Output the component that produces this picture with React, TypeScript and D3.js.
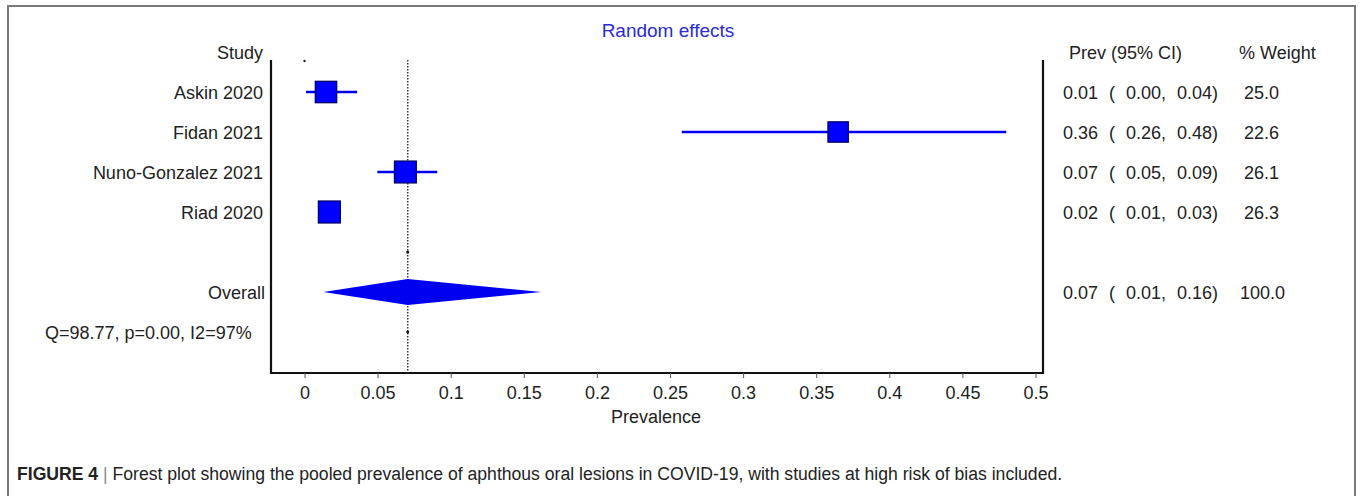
import React, { useEffect, useRef } from 'react';
import * as d3 from 'd3';

// study rows of the forest plot
const studies = ['Askin 2020', 'Fidan 2021', 'Nuno-Gonzalez 2021', 'Riad 2020'];
const estimates = [0.0147, 0.365, 0.069, 0.017];
const lowers = [0.001, 0.258, 0.0498, 0.011];
const uppers = [0.036, 0.48, 0.0908, 0.025];
const weights = [25.0, 22.6, 26.1, 26.3];
const prevLabels = ['0.01', '0.36', '0.07', '0.02'];
const lowLabels = ['0.00', '0.26', '0.05', '0.01'];
const highLabels = ['0.04', '0.48', '0.09', '0.03'];

// pooled estimate
const pooled = { est: 0.0706, lo: 0.0129, hi: 0.162 };
const pooledLabels = ['0.07', '0.01', '0.16', '100.0'];
const heterogeneity = 'Q=98.77, p=0.00, I2=97%';

const xTicks = [0, 0.05, 0.1, 0.15, 0.2, 0.25, 0.3, 0.35, 0.4, 0.45, 0.5];

const FONT = 'Arial, "Liberation Sans", sans-serif';

const App = () => {
  const ref = useRef<SVGSVGElement>(null);

  useEffect(() => {
    const svg = d3.select(ref.current);
    svg.selectAll('*').remove();

    const x = d3.scaleLinear().domain([0, 0.5]).range([304.5, 1035.5]);
    // row index -> y (0 = header, 5 = blank, 6 = overall, 7 = heterogeneity)
    const y = d3.scaleLinear().domain([0, 1]).range([52, 92]);
    const boxSize = d3.scaleSqrt().domain([0, 26.3]).range([0, 22]);

    const plotLeft = 271, plotRight = 1043, plotTop = 60, plotBottom = 373;

    // outer frame
    svg.append('rect')
      .attr('x', 8).attr('y', 6).attr('width', 1347).attr('height', 500)
      .attr('fill', 'none').attr('stroke', '#7a7a7a').attr('stroke-width', 2);

    svg.append('text')
      .attr('x', 668).attr('y', 37)
      .attr('text-anchor', 'middle')
      .attr('font-family', FONT).attr('font-size', 19)
      .attr('fill', '#2b2bd6')
      .text('Random effects');

    // frame lines of plot
    const g = svg.append('g').attr('stroke', '#111').attr('stroke-width', 2.2);
    g.append('line').attr('x1', plotLeft).attr('x2', plotLeft).attr('y1', plotTop).attr('y2', plotBottom + 1);
    g.append('line').attr('x1', plotRight).attr('x2', plotRight).attr('y1', plotTop).attr('y2', plotBottom + 1);
    g.append('line').attr('x1', plotLeft).attr('x2', plotRight).attr('y1', plotBottom).attr('y2', plotBottom);

    // x axis
    const axis = svg.append('g')
      .attr('transform', `translate(0,${plotBottom})`)
      .call(d3.axisBottom(x).tickValues(xTicks).tickSize(5).tickPadding(8)
        .tickFormat(d => String(+(+d).toFixed(2))));
    axis.select('.domain').remove();
    axis.selectAll('line').attr('stroke', '#555');
    axis.selectAll('text')
      .attr('font-family', FONT).attr('font-size', 18).attr('fill', '#222');

    svg.append('text')
      .attr('x', 656).attr('y', 423)
      .attr('text-anchor', 'middle')
      .attr('font-family', FONT).attr('font-size', 18).attr('fill', '#222')
      .text('Prevalence');

    // pooled reference line
    svg.append('line')
      .attr('x1', x(pooled.est)).attr('x2', x(pooled.est))
      .attr('y1', plotTop).attr('y2', plotBottom)
      .attr('stroke', '#333').attr('stroke-width', 1.5)
      .attr('stroke-dasharray', '1.5,1.5');
    [y(5), y(7)].forEach(cy => {
      svg.append('circle').attr('cx', x(pooled.est)).attr('cy', cy).attr('r', 1.5).attr('fill', '#111');
    });
    svg.append('circle').attr('cx', x(0)).attr('cy', 61).attr('r', 1.2).attr('fill', '#222');

    // left labels
    const leftText = (txt, row, anchor = 'end', xx = 263) =>
      svg.append('text')
        .attr('x', xx).attr('y', y(row) + 6.5)
        .attr('text-anchor', anchor)
        .attr('font-family', FONT).attr('font-size', 18).attr('fill', '#222')
        .text(txt);

    leftText('Study', 0);
    studies.forEach((s, i) => leftText(s, i + 1));
    leftText('Overall', 6, 'end', 265);
    leftText(heterogeneity, 7, 'start', 45);

    // CI lines and boxes
    studies.forEach((s, i) => {
      const cy = y(i + 1);
      svg.append('line')
        .attr('x1', x(lowers[i])).attr('x2', x(uppers[i]))
        .attr('y1', cy).attr('y2', cy)
        .attr('stroke', '#0000f0').attr('stroke-width', 2.5);
      const sz = boxSize(weights[i]);
      svg.append('rect')
        .attr('x', x(estimates[i]) - sz / 2).attr('y', cy - sz / 2)
        .attr('width', sz).attr('height', sz)
        .attr('fill', '#0000ff').attr('stroke', '#00005a').attr('stroke-width', 1.2);
    });

    // overall diamond
    const dy = y(6);
    svg.append('polygon')
      .attr('points', [
        [x(pooled.lo), dy], [x(pooled.est), dy - 13],
        [x(pooled.hi), dy], [x(pooled.est), dy + 13]
      ].map(p => p.join(',')).join(' '))
      .attr('fill', '#0000f0');

    // right table
    const rightText = (txt, xx, row, anchor = 'start') =>
      svg.append('text')
        .attr('x', xx).attr('y', y(row) + 6.5)
        .attr('text-anchor', anchor)
        .attr('font-family', FONT).attr('font-size', 18).attr('fill', '#222')
        .text(txt);

    rightText('Prev (95% CI)', 1069, 0);
    rightText('% Weight', 1239, 0);
    const rowCells = (row, est, lo, hi, w, wx) => {
      rightText(est, 1063, row);
      rightText('(', 1109, row);
      rightText(lo + ',', 1126, row);
      rightText(hi + ')', 1177, row);
      rightText(w, wx, row);
    };
    studies.forEach((s, i) =>
      rowCells(i + 1, prevLabels[i], lowLabels[i], highLabels[i], weights[i].toFixed(1), 1244));
    rowCells(6, pooledLabels[0], pooledLabels[1], pooledLabels[2], pooledLabels[3], 1240);

    // caption
    const cap = svg.append('text')
      .attr('x', 17).attr('y', 480)
      .attr('font-family', '"Liberation Sans Narrow", Arial, sans-serif')
      .attr('font-size', 17.6).attr('fill', '#222');
    cap.append('tspan').attr('font-weight', 'bold').text('FIGURE 4');
    cap.append('tspan').attr('fill', '#888').text(' | ');
    cap.append('tspan')
      .text('Forest plot showing the pooled prevalence of aphthous oral lesions in COVID-19, with studies at high risk of bias included.');
  }, []);

  return (
    <svg ref={ref} width={1360} height={496}
      style={{ position: 'absolute', left: 0, top: 0, background: '#fff' }} />
  );
};

export default App;
